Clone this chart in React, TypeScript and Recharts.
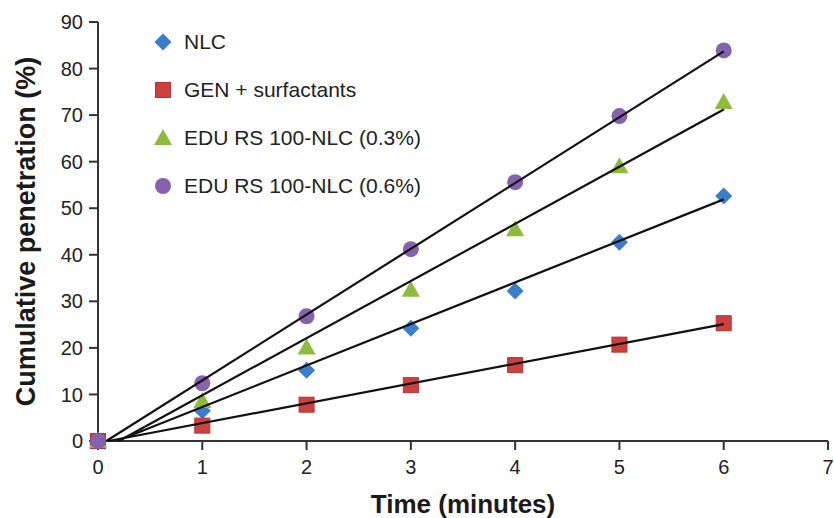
import { ScatterChart, Scatter, XAxis, YAxis } from 'recharts';

// time points (minutes)
const times = [0, 1, 2, 3, 4, 5, 6];

// cumulative penetration (%)
const nlcValues = [0, 6.5, 15.2, 24.2, 32.2, 42.7, 52.6];
const genValues = [0, 3.3, 7.8, 12.0, 16.3, 20.7, 25.3];
const edu03Values = [0, 8.6, 20.1, 32.5, 45.5, 59.0, 72.8];
const edu06Values = [0, 12.4, 26.8, 41.2, 55.6, 69.8, 83.9];

// trend line endpoints [start, end]
const nlcFitX = [0.18, 6];
const nlcFitY = [0, 51.9];
const genFitX = [0.1, 6];
const genFitY = [0, 25.1];
const edu03FitX = [0.2, 6];
const edu03FitY = [0, 71.2];
const edu06FitX = [0.08, 6];
const edu06FitY = [0, 83.7];

const xTicks = [0, 1, 2, 3, 4, 5, 6, 7];
const yTicks = [0, 10, 20, 30, 40, 50, 60, 70, 80, 90];

const FONT = '"Liberation Sans", Arial, sans-serif';

const toPoints = (xs: number[], ys: number[]) => xs.map((x, i) => ({ x, y: ys[i] }));

const Diamond = ({ cx, cy }: { cx?: number; cy?: number }) => {
  if (cx == null || cy == null) return null;
  const r = 8.5;
  return <path d={`M${cx},${cy - r}L${cx + r},${cy}L${cx},${cy + r}L${cx - r},${cy}Z`} fill="#3b7dc9" />;
};

const Square = ({ cx, cy }: { cx?: number; cy?: number }) => {
  if (cx == null || cy == null) return null;
  return <rect x={cx - 7.5} y={cy - 7.5} width={15} height={15} fill="#cc4040" stroke="#b83232" strokeWidth={1} />;
};

const Triangle = ({ cx, cy }: { cx?: number; cy?: number }) => {
  if (cx == null || cy == null) return null;
  return <path d={`M${cx},${cy - 9}L${cx + 9},${cy + 7}L${cx - 9},${cy + 7}Z`} fill="#8dbb3e" />;
};

const Circle = ({ cx, cy }: { cx?: number; cy?: number }) => {
  if (cx == null || cy == null) return null;
  return <circle cx={cx} cy={cy} r={8} fill="#8462ae" />;
};

const NoShape = () => <g />;

const legendItems = [
  { name: 'NLC', Shape: Diamond },
  { name: 'GEN + surfactants', Shape: Square },
  { name: 'EDU RS 100-NLC (0.3%)', Shape: Triangle },
  { name: 'EDU RS 100-NLC (0.6%)', Shape: Circle },
];

const LegendBox = () => (
  <div style={{ position: 'absolute', left: 151, top: 18, fontFamily: FONT, fontSize: 21, color: '#222' }}>
    {legendItems.map(({ name, Shape }) => (
      <div key={name} style={{ display: 'flex', alignItems: 'center', height: 48 }}>
        <svg width={24} height={24} style={{ marginRight: 9 }}>
          <Shape cx={12} cy={12} />
        </svg>
        <span>{name}</span>
      </div>
    ))}
  </div>
);

export default function App() {
  const axisTick = { fill: '#222', fontSize: 20, fontFamily: FONT };
  const axisLine = { stroke: '#333', strokeWidth: 2 };
  const labelStyle = { fill: '#1a1a1a', fontWeight: 700, fontFamily: FONT };
  const fitLine = { stroke: '#111', strokeWidth: 2.2 };

  return (
    <div style={{ position: 'absolute', left: 0, top: 0, width: 834, height: 518, background: '#fff' }}>
      <ScatterChart width={834} height={518} margin={{ top: 22, right: 6, bottom: 0, left: 0 }}>
        <XAxis
          type="number"
          dataKey="x"
          domain={[0, 7]}
          ticks={xTicks}
          interval={0}
          height={77}
          axisLine={axisLine}
          tickLine={axisLine}
          tickSize={9}
          tickMargin={10}
          tick={axisTick}
          label={{ value: 'Time (minutes)', position: 'insideBottom', offset: 5, style: { ...labelStyle, fontSize: 26 } }}
        />
        <YAxis
          type="number"
          dataKey="y"
          domain={[0, 90]}
          ticks={yTicks}
          interval={0}
          width={98}
          axisLine={axisLine}
          tickLine={axisLine}
          tickSize={9}
          tickMargin={6}
          tick={axisTick}
          label={{
            value: 'Cumulative penetration (%)',
            angle: -90,
            position: 'insideLeft',
            offset: 20,
            dx: 5,
            style: { ...labelStyle, fontSize: 27, textAnchor: 'middle' },
          }}
        />
        <Scatter name="NLC" data={toPoints(times, nlcValues)} shape={<Diamond />} isAnimationActive={false} />
        <Scatter name="GEN + surfactants" data={toPoints(times, genValues)} shape={<Square />} isAnimationActive={false} />
        <Scatter name="EDU RS 100-NLC (0.3%)" data={toPoints(times, edu03Values)} shape={<Triangle />} isAnimationActive={false} />
        <Scatter name="EDU RS 100-NLC (0.6%)" data={toPoints(times, edu06Values)} shape={<Circle />} isAnimationActive={false} />
        <Scatter data={toPoints(nlcFitX, nlcFitY)} line={fitLine} shape={<NoShape />} legendType="none" isAnimationActive={false} />
        <Scatter data={toPoints(genFitX, genFitY)} line={fitLine} shape={<NoShape />} legendType="none" isAnimationActive={false} />
        <Scatter data={toPoints(edu03FitX, edu03FitY)} line={fitLine} shape={<NoShape />} legendType="none" isAnimationActive={false} />
        <Scatter data={toPoints(edu06FitX, edu06FitY)} line={fitLine} shape={<NoShape />} legendType="none" isAnimationActive={false} />
      </ScatterChart>
      <LegendBox />
    </div>
  );
}
